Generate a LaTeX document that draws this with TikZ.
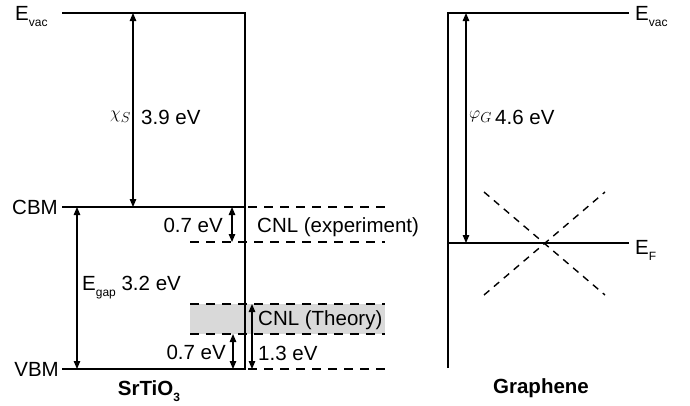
\documentclass[tikz,border=0pt]{standalone}
\usepackage{fontspec}
\setmainfont{Liberation Sans}
\usetikzlibrary{arrows.meta,positioning,calc}
\definecolor{bandgray}{RGB}{217,217,217}
\newcommand{\lowsub}[1]{\raisebox{-0.3em}{\fontsize{12}{14}\selectfont #1}}
\tikzset{
  level/.style={
    line width=1.8pt,
    line join=miter
  },
  dashlevel/.style={
    line width=1.6pt,
    dash pattern=on 9pt off 7pt
  },
  conedash/.style={
    line width=1.4pt,
    dash pattern=on 7pt off 6pt
  },
  gaparr/.style={
    {Triangle[length=8pt,width=6.5pt]}-{Triangle[length=8pt,width=6.5pt]},
    line width=1.2pt
  },
  lbl/.style={
    font=\fontsize{20.5}{24}\selectfont,
    inner sep=1pt
  },
  sym/.style={
    font=\fontsize{19}{22}\selectfont,
    inner sep=1pt
  },
  title/.style={
    font=\fontsize{20.5}{24}\selectfont\bfseries,
    inner sep=1pt
  }
}

\begin{document}
\begin{tikzpicture}[x=1pt,y=-1pt]
        \useasboundingbox (0,0) rectangle (690,405);

        % SrTiO3 side
        \coordinate (sEvacL) at (62,13);
        \coordinate (sEvacR) at (245,13);
        \coordinate (sCbmL) at (62,207);
        \coordinate (sCbmR) at (245,207);
        \coordinate (sVbmL) at (62,369);
        \coordinate (sVbmR) at (245,369);
        \coordinate (sBot) at (245,370);

        \fill[bandgray] (190,304) rectangle (385,334);

        \draw[level] (sEvacL) -- (sEvacR) -- (sBot);
        \draw[level] (sCbmL) -- (sCbmR);
        \draw[level] (sVbmL) -- (sVbmR);

        \coordinate (cbmD1) at (248,207);
        \coordinate (cbmD2) at (385,207);
        \coordinate (expD1) at (190,242);
        \coordinate (expD2) at (385,242);
        \coordinate (thTop1) at (190,304);
        \coordinate (thTop2) at (385,304);
        \coordinate (thBot1) at (190,334);
        \coordinate (thBot2) at (385,334);
        \coordinate (vbmD1) at (248,369);
        \coordinate (vbmD2) at (385,369);

        \draw[dashlevel] (cbmD1) -- (cbmD2);
        \draw[dashlevel] (expD1) -- (expD2);
        \draw[dashlevel] (thTop1) -- (thTop2);
        \draw[dashlevel] (thBot1) -- (thBot2);
        \draw[dashlevel] (vbmD1) -- (vbmD2);

        \coordinate (chiTop) at (133,13);
        \coordinate (chiBot) at (133,207);
        \coordinate (gapTop) at (77,207);
        \coordinate (gapBot) at (77,369);
        \coordinate (expTop) at (232,207);
        \coordinate (expBot) at (232,242);
        \coordinate (thLow) at (233,334);
        \coordinate (thVbm) at (233,369);
        \coordinate (cnlTop) at (252,304);
        \coordinate (cnlBot) at (252,369);

        \draw[gaparr] (chiTop) -- (chiBot);
        \draw[gaparr] (gapTop) -- (gapBot);
        \draw[gaparr] (expTop) -- (expBot);
        \draw[gaparr] (thLow) -- (thVbm);
        \draw[gaparr] (cnlTop) -- (cnlBot);

        \node[lbl,anchor=base west] (evacS) at (14,20) {E\lowsub{vac}};
        \node[lbl,left=3pt of sCbmL] (cbm) {CBM};
        \node[lbl,left=2pt of sVbmL] (vbm) {VBM};
        \node[sym,anchor=east] (chiSym) at (132,117) {$\chi_S$};
        \node[lbl,anchor=west] (chiVal) at (140,117) {3.9 eV};
        \node[lbl,anchor=base west] (egap) at (81,290) {E\lowsub{gap} 3.2 eV};
        \node[lbl,anchor=east] (expVal) at (224,225) {0.7 eV};
        \node[lbl,anchor=east] (thVal) at (227,352) {0.7 eV};
        \node[lbl,anchor=west] (cnlExp) at (256,227) {CNL (experiment)};
        \node[lbl,anchor=west] (cnlTh) at (257,320) {CNL (Theory)};
        \node[lbl,anchor=west] (cnlVal) at (257,353) {1.3 eV};
        \node[title,anchor=base] (sto) at (149,395) {SrTiO\lowsub{3}};

        % graphene side
        \coordinate (gTop) at (448,13);
        \coordinate (gBot) at (448,368);
        \coordinate (gEvacR) at (629,13);
        \coordinate (gEfL) at (448,243);
        \coordinate (gEfR) at (629,243);

        \draw[level] (gBot) -- (gTop) -- (gEvacR);
        \draw[level] (gEfL) -- (gEfR);

        \coordinate (coneUL) at (484,192);
        \coordinate (coneLR) at (605,295);
        \coordinate (coneLL) at (484,295);
        \coordinate (coneUR) at (605,192);
        \draw[conedash] (coneUL) -- (coneLR);
        \draw[conedash] (coneLL) -- (coneUR);

        \coordinate (phiTop) at (466,13);
        \coordinate (phiBot) at (466,243);
        \draw[gaparr] (phiTop) -- (phiBot);

        \node[sym,anchor=west] (phiSym) at (468,117) {$\varphi_G$};
        \node[lbl,anchor=west] (phiVal) at (494,117) {4.6 eV};
        \node[lbl,anchor=base west] (evacG) at (634,20) {E\lowsub{vac}};
        \node[lbl,anchor=base west] (ef) at (634,254) {E\lowsub{F}};
        \node[title] (gra) at (541,388) {Graphene};
      \end{tikzpicture}
\end{document}
